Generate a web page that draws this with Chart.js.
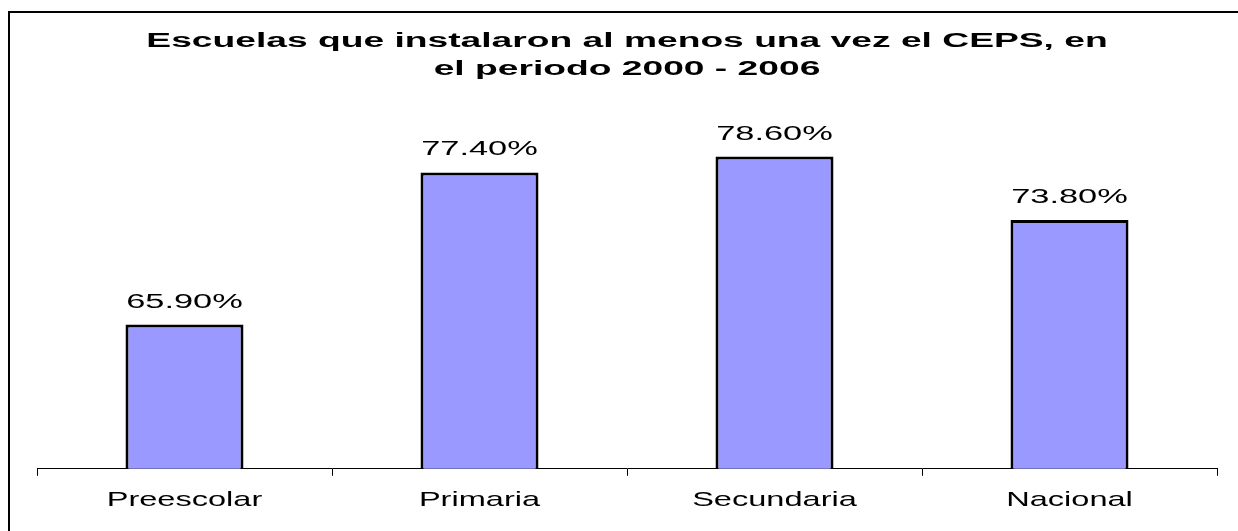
<!DOCTYPE html>
<html>
<head>
<meta charset="utf-8">
<script src="https://cdn.jsdelivr.net/npm/chart.js@4"></script>
<style>
  html, body { margin: 0; padding: 0; background: #fff; overflow: hidden; }
  #wrap { position: relative; width: 1238px; height: 531px; }
  #frame { position: absolute; left: 8px; top: 11px; width: 1300px; height: 600px;
           border: 2px solid #000; pointer-events: none; }
</style>
</head>
<body>
<div id="wrap">
  <canvas id="myChart" width="1238" height="531"></canvas>
  <div id="frame"></div>
</div>
<script>
const categories = ['Preescolar', 'Primaria', 'Secundaria', 'Nacional']
const percentages = [65.9, 77.4, 78.6, 73.8]
const titleLines = ['Escuelas que instalaron al menos una vez el CEPS, en', 'el periodo 2000 - 2006']

// the original text is drawn horizontally stretched, so widen glyphs per font
const stretchFor = (font) => {
    if (font.indexOf('bold') === 0) return 1.86
    if (font.indexOf('21px') !== -1) return 1.55
    return 1.72
}

const canvas = document.getElementById('myChart')
const ctx = canvas.getContext('2d')
const plainFillText = ctx.fillText.bind(ctx)
ctx.fillText = function (text, x, y) {
    ctx.save()
    ctx.translate(x, y)
    ctx.scale(stretchFor(ctx.font), 1)
    plainFillText(text, 0, 0)
    ctx.restore()
}

const valueLabels = {
    id: 'valueLabels',
    afterDatasetsDraw(chart) {
        const c = chart.ctx
        chart.getDatasetMeta(0).data.forEach((bar, i) => {
            c.save()
            c.font = '20px "Liberation Sans", Arial, sans-serif'
            c.fillStyle = '#000'
            c.textAlign = 'center'
            c.textBaseline = 'alphabetic'
            c.fillText(percentages[i].toFixed(2) + '%', bar.x, bar.y - 17)
            c.restore()
        })
    }
}

new Chart(ctx, {
    type: 'bar',
    data: {
        labels: categories,
        datasets: [{
            data: percentages,
            backgroundColor: '#9999FF',
            borderColor: '#000',
            borderWidth: 3,
            barPercentage: 0.4,
            categoryPercentage: 1
        }]
    },
    options: {
        responsive: false,
        animation: false,
        devicePixelRatio: 1,
        layout: { padding: { left: 37, right: 21, top: 0, bottom: 6 } },
        plugins: {
            legend: { display: false },
            tooltip: { enabled: false },
            title: {
                display: true,
                text: titleLines,
                color: '#000',
                font: { family: '"Liberation Sans", Arial, sans-serif', size: 20, weight: 'bold', lineHeight: 1.375 },
                padding: { top: 28, bottom: 55 }
            }
        },
        scales: {
            x: {
                border: { display: true, color: '#000', width: 1 },
                grid: { drawOnChartArea: false, drawTicks: true, tickLength: 7, color: '#000', offset: true },
                ticks: {
                    color: '#000',
                    padding: 12,
                    maxRotation: 0,
                    font: { family: '"Liberation Sans", Arial, sans-serif', size: 21 }
                }
            },
            y: { display: false, min: 55, max: 80 }
        }
    },
    plugins: [valueLabels]
})
</script>
</body>
</html>
